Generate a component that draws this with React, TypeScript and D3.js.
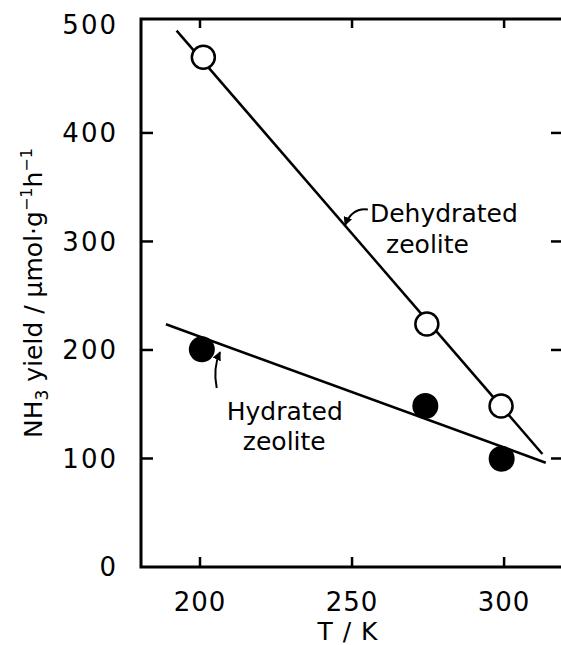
import React from "react";
import * as d3 from "d3";

const xTicks = [200, 250, 300];
const yTicks = [0, 100, 200, 300, 400, 500];

const dehydT = [201.1, 274.6, 299.0];
const dehydY = [469.7, 224, 148.4];
const hydT = [200.6, 274.1, 299.2];
const hydY = [200.6, 148.4, 99.8];

// fitted lines (endpoints)
const dehydLineT = [192.3, 312.6];
const dehydLineY = [494.3, 104.1];
const hydLineT = [188.8, 313.7];
const hydLineY = [223.7, 96.1];

const W = 561;
const H = 645;
const FONT = "DejaVu Sans";

export default function App() {
  const left = 141;
  const right = 564;
  const top = 19;
  const bottom = 567;
  const x = d3.scaleLinear().domain([180.6, 319.7]).range([left, right]);
  const y = d3.scaleLinear().domain([0, 505]).range([bottom, top]);

  const line = d3
    .line<[number, number]>()
    .x((d) => x(d[0]))
    .y((d) => y(d[1]));

  const dehydLine: [number, number][] = dehydLineT.map((t, i) => [t, dehydLineY[i]]);
  const hydLine: [number, number][] = hydLineT.map((t, i) => [t, hydLineY[i]]);

  // annotation anchors
  const dArrowStart = [x(255.2), y(329.5)];
  const dArrowTip = [x(247.7), y(315)];
  const hArrowStart = [x(205.5), y(165)];
  const hArrowTip = [x(206.6), y(198)];

  return (
    <svg
      width={W}
      height={H}
      style={{ position: "absolute", left: 0, top: 0, background: "#fff" }}
      fontFamily={FONT}
    >
      <defs>
        <marker
          id="ah"
          viewBox="0 0 10 10"
          refX="9"
          refY="5"
          markerWidth="9"
          markerHeight="9"
          markerUnits="userSpaceOnUse"
          orient="auto"
        >
          <path d="M0,0 L10,5 L0,10 Z" fill="#000" />
        </marker>
      </defs>
      <rect x={0} y={0} width={W} height={H} fill="#fff" />
      {/* frame */}
      <rect
        x={left}
        y={top}
        width={right - left}
        height={bottom - top}
        fill="none"
        stroke="#000"
        strokeWidth={3}
      />
      {/* x ticks bottom and top */}
      {xTicks.map((t) => (
        <g key={"x" + t}>
          <line x1={x(t)} x2={x(t)} y1={bottom} y2={bottom - 10} stroke="#000" strokeWidth={2.5} />
          <line x1={x(t)} x2={x(t)} y1={top} y2={top + 9} stroke="#000" strokeWidth={2.5} />
          <text
            x={x(t)}
            y={611}
            textAnchor="middle"
            fontSize={26}
            letterSpacing={1}
          >
            {t}
          </text>
        </g>
      ))}
      {/* y ticks left and right */}
      {yTicks.map((t) => (
        <g key={"y" + t}>
          {t > 0 && t < 500 && (
            <>
              <line x1={left} x2={left + 12} y1={y(t)} y2={y(t)} stroke="#000" strokeWidth={2.5} />
              <line x1={right - 13} x2={right} y1={y(t)} y2={y(t)} stroke="#000" strokeWidth={2.5} />
            </>
          )}
          <text
            x={118}
            y={y(t)}
            dy="0.36em"
            textAnchor="end"
            fontSize={26}
            letterSpacing={2}
          >
            {t}
          </text>
        </g>
      ))}
      {/* axis titles */}
      <text x={348} y={640} textAnchor="middle" fontSize={25} letterSpacing={1}>
        T / K
      </text>
      <text
        transform={`translate(42, 293) rotate(-90)`}
        textAnchor="middle"
        fontSize={25}
      >
        NH<tspan fontSize={17} dy={6}>3</tspan>
        <tspan dy={-6}>{"  yield / μmol·g"}</tspan>
        <tspan fontSize={16} dy={-10}>{"−1"}</tspan>
        <tspan dy={10}>h</tspan>
        <tspan fontSize={16} dy={-10}>{"−1"}</tspan>
      </text>

      {/* fitted lines */}
      <path d={line(dehydLine) || ""} fill="none" stroke="#000" strokeWidth={2.5} />
      <path d={line(hydLine) || ""} fill="none" stroke="#000" strokeWidth={2.5} />

      {/* points */}
      {dehydT.map((t, i) => (
        <circle
          key={"d" + i}
          cx={x(t)}
          cy={y(dehydY[i])}
          r={11.5}
          fill="#fff"
          stroke="#000"
          strokeWidth={2.5}
        />
      ))}
      {hydT.map((t, i) => (
        <circle key={"h" + i} cx={x(t)} cy={y(hydY[i])} r={13} fill="#000" />
      ))}

      {/* annotations */}
      <path
        d={`M${dArrowStart[0]},${dArrowStart[1]} Q${dArrowStart[0] - 16},${dArrowStart[1] - 2} ${dArrowTip[0]},${dArrowTip[1]}`}
        fill="none"
        stroke="#000"
        strokeWidth={2}
        markerEnd="url(#ah)"
      />
      <text x={x(255.9)} y={y(318)} fontSize={25}>
        Dehydrated
      </text>
      <text x={x(261.2)} y={y(289.4)} fontSize={25}>
        zeolite
      </text>
      <path
        d={`M${hArrowStart[0]},${hArrowStart[1]} Q${hArrowStart[0] - 4},${hArrowStart[1] - 20} ${hArrowTip[0]},${hArrowTip[1]}`}
        fill="none"
        stroke="#000"
        strokeWidth={2}
        markerEnd="url(#ah)"
      />
      <text x={x(208.8)} y={y(135.5)} fontSize={25}>
        Hydrated
      </text>
      <text x={x(214.1)} y={y(107.8)} fontSize={25}>
        zeolite
      </text>
    </svg>
  );
}
